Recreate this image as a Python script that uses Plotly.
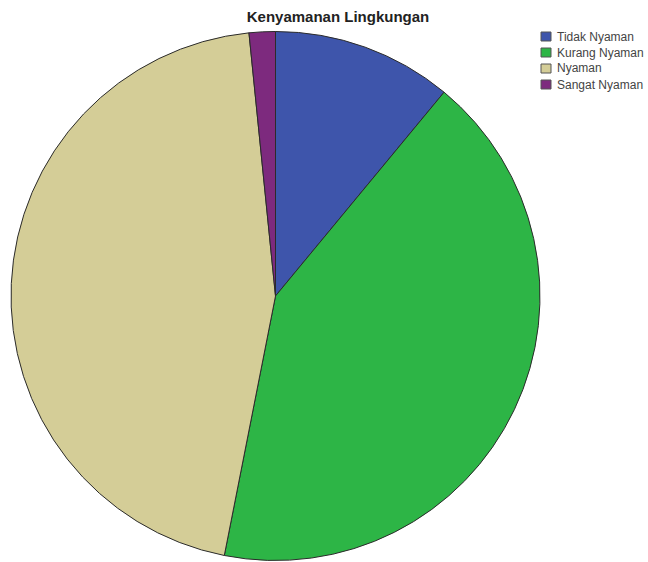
import plotly.graph_objects as go

# Environmental comfort responses (percent of respondents)
categories = ["Tidak Nyaman", "Kurang Nyaman", "Nyaman", "Sangat Nyaman"]
percents = [11.0, 42.1, 45.3, 1.6]
colors = ["#3E55AB", "#2DB546", "#D4CD97", "#7D2A7E"]

W, H = 648, 562
FONT = "Arial, Liberation Sans, sans-serif"

fig = go.Figure(
    go.Pie(
        labels=categories,
        values=percents,
        sort=False,
        direction="clockwise",
        rotation=0,
        marker=dict(colors=colors, line=dict(color="#2b2b2b", width=1)),
        textinfo="none",
        hoverinfo="label+percent",
        showlegend=False,
        domain=dict(x=[11 / W, 540 / W], y=[1 - 561 / H, 1 - 31 / H]),
    )
)

# Compact legend: small square swatch with label directly beside it
shapes, annotations = [], []
for i, (name, col) in enumerate(zip(categories, colors)):
    top = 32 + 16 * i
    shapes.append(dict(
        type="rect", xref="paper", yref="paper",
        x0=541 / W, x1=551 / W, y0=1 - (top + 9) / H, y1=1 - top / H,
        fillcolor=col, line=dict(color="#555555", width=1),
    ))
    annotations.append(dict(
        text=name, xref="paper", yref="paper",
        x=555 / W, xanchor="left", y=1 - (top + 4.5) / H, yanchor="middle",
        showarrow=False, font=dict(family=FONT, size=12, color="#444444"),
    ))

fig.update_layout(
    width=W,
    height=H,
    margin=dict(l=0, r=0, t=0, b=0),
    paper_bgcolor="white",
    plot_bgcolor="white",
    title=dict(
        text="<b>Kenyamanan Lingkungan</b>",
        x=338 / W,
        xanchor="center",
        y=1 - 17 / H,
        yanchor="middle",
        font=dict(family=FONT, size=15, color="#222222"),
    ),
    shapes=shapes,
    annotations=annotations,
)

fig.write_html("out.html")
